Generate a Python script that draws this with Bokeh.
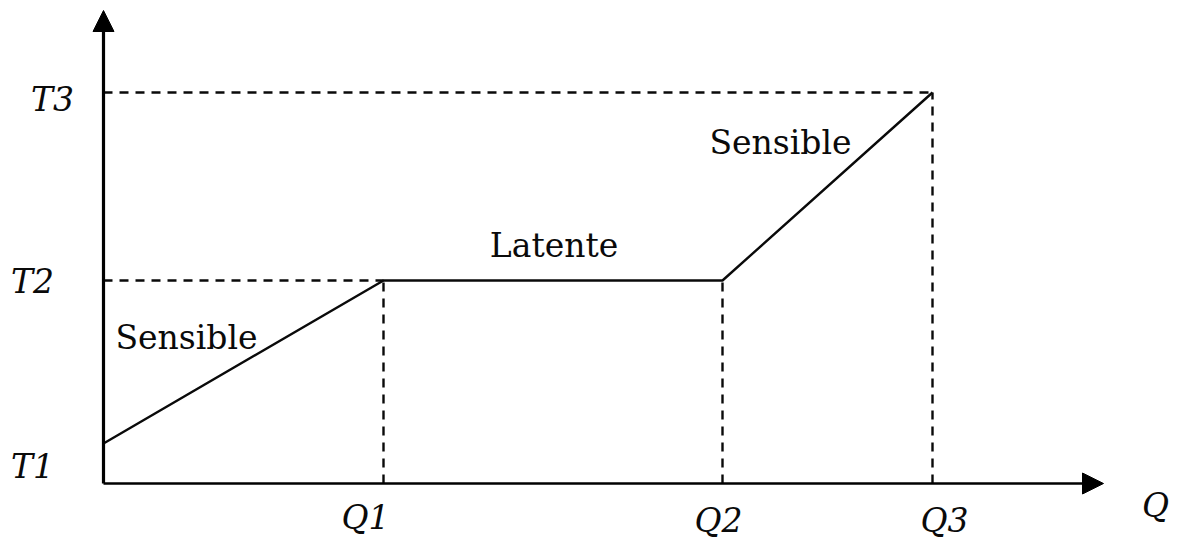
from bokeh.plotting import figure
from bokeh.models import Range1d, Arrow, NormalHead
from bokeh.core.properties import value
from bokeh.embed import file_html
from bokeh.resources import INLINE

# Heating curve: heat supplied (Q) vs temperature (T)
heat = [0.0, 2.80, 6.19, 8.29]          # Q0, Q1, Q2, Q3
temp = [0.40, 2.03, 2.03, 3.91]         # T1, T2, T2, T3
q_labels = ["Q1", "Q2", "Q3"]
t_labels = ["T1", "T2", "T3"]
t_values = [temp[0], temp[1], temp[3]]
q_values = heat[1:]
stage_labels = ["Sensible", "Latente", "Sensible"]

# axis extents (tips of the arrows)
X_END = 10.0
Y_END = 4.73

FONT = value("DejaVu Serif")
INK = "#0a0a0a"

p = figure(width=1178, height=542, output_backend="svg", toolbar_location=None,
           x_range=Range1d(-1.03, 10.75), y_range=Range1d(-0.59, 4.83),
           x_axis_location=None, y_axis_location=None, min_border=0)
p.grid.visible = False
p.outline_line_color = None
p.background_fill_color = "white"
p.border_fill_color = "white"

# dashed guide lines
dash = dict(line_color=INK, line_width=2.4, line_dash="9 7")
p.line([0, heat[1]], [temp[1], temp[1]], **dash)
p.line([0, heat[3]], [temp[3], temp[3]], **dash)
p.line([heat[1], heat[1]], [0, temp[1]], **dash)
p.line([heat[2], heat[2]], [0, temp[2]], **dash)
p.line([heat[3], heat[3]], [0, temp[3]], **dash)

# heating curve
p.line(heat, temp, line_color=INK, line_width=2.4)

# axes with arrow heads
p.add_layout(Arrow(x_start=0, y_start=0, x_end=X_END, y_end=0, line_width=2.6,
                   line_color="black",
                   end=NormalHead(size=21, fill_color="black", line_color="black")))
p.add_layout(Arrow(x_start=0, y_start=0, x_end=0, y_end=Y_END, line_width=3.2,
                   line_color="black",
                   end=NormalHead(size=21, fill_color="black", line_color="black")))

txt = dict(text_font=FONT, text_font_size="33px", text_color=INK,
           text_align="center", text_baseline="middle")

# temperature labels
p.text(x=[0, 0, 0], y=t_values, text=t_labels,
       x_offset=[-71, -71, -51], y_offset=[23, 1, 7],
       text_font_style="italic", **txt)

# heat labels
p.text(x=q_values, y=[0, 0, 0], text=q_labels,
       x_offset=[-18, -4, 12], y_offset=[34, 37, 37],
       text_font_style="italic", **txt)
p.text(x=[X_END], y=[0], text=["Q"], x_offset=[52], y_offset=[22],
       text_font_style="italic", **txt)

# stage labels
sx = [(heat[0] + heat[1]) / 2, (heat[1] + heat[2]) / 2, (heat[2] + heat[3]) / 2]
sy = [(temp[0] + temp[1]) / 2, temp[1], (temp[2] + temp[3]) / 2]
p.text(x=sx, y=sy, text=stage_labels,
       x_offset=[-57, 1, -47], y_offset=[-25, -35, -44], **txt)

open("out.html", "w").write(file_html(p, INLINE))
